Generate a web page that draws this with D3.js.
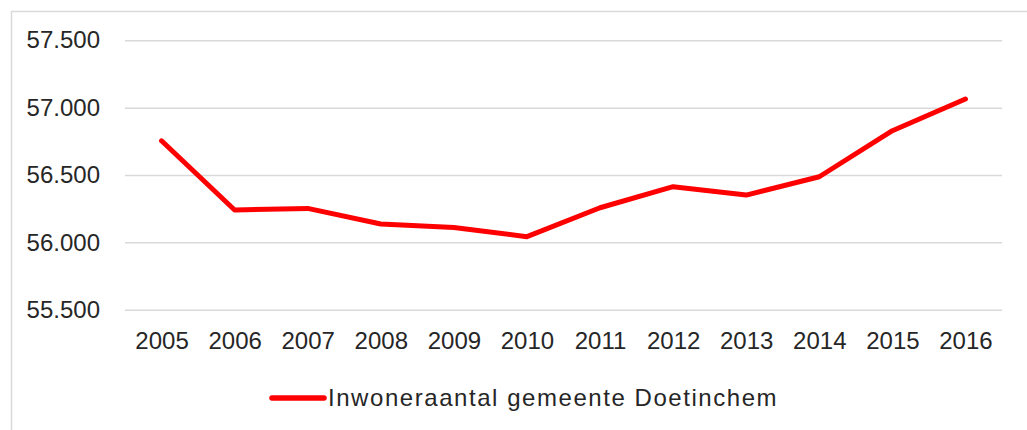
<!DOCTYPE html>
<html lang="nl">
<head>
<meta charset="UTF-8" />
<title>Inwoneraantal gemeente Doetinchem</title>
<script src="https://cdn.jsdelivr.net/npm/d3@7"></script>
<style>
    body { margin: 0; background: #fff; overflow: hidden; }
    svg { display: block; font-family: 'Liberation Sans', Arial, sans-serif; }
</style>
</head>
<body>
<div id="chart"></div>
<script>
const years = ['2005', '2006', '2007', '2008', '2009', '2010', '2011', '2012', '2013', '2014', '2015', '2016']
const inwoners = [56754, 56240, 56252, 56136, 56111, 56042, 56257, 56413, 56351, 56487, 56829, 57064]
const yTicks = [55500, 56000, 56500, 57000, 57500]
const seriesName = 'Inwoneraantal gemeente Doetinchem'

const width = 1027
const height = 430
const plot = { left: 125, right: 1002, top: 40.3, bottom: 309.7 }

const svg = d3.select('#chart').append('svg').attr('width', width).attr('height', height)

// chart area border (runs off the right and bottom edge)
svg.append('path')
    .attr('d', `M11.5,${height + 5}V11.5H${width + 5}`)
    .attr('fill', 'none')
    .attr('stroke', '#d9d9d9')
    .attr('stroke-width', 1.5)

const x = d3.scalePoint().domain(years).range([plot.left, plot.right]).padding(0.5)
const y = d3.scaleLinear().domain([55500, 57500]).range([plot.bottom, plot.top])

// dutch thousands separator
const fmt = (v) => d3.format(',')(v).replace(/,/g, '.')

// gridlines + y labels
const yAxis = d3.axisLeft(y).tickValues(yTicks).tickSize(-(plot.right - plot.left)).tickPadding(25).tickFormat(fmt)
const gy = svg.append('g').attr('transform', `translate(${plot.left},0)`).call(yAxis)
gy.select('.domain').remove()
gy.selectAll('.tick line').attr('stroke', '#d9d9d9').attr('stroke-width', 1.5)
gy.selectAll('.tick text').attr('fill', '#262626').style('font-size', '24px')

// x labels
const xAxis = d3.axisBottom(x).tickSize(0).tickPadding(22)
const gx = svg.append('g').attr('transform', `translate(0,${plot.bottom})`).call(xAxis)
gx.select('.domain').remove()
gx.selectAll('.tick text').attr('fill', '#262626').style('font-size', '24px')

// line
const line = d3.line()
    .x((d, i) => x(years[i]))
    .y((d) => y(d))

svg.append('path')
    .datum(inwoners)
    .attr('d', line)
    .attr('fill', 'none')
    .attr('stroke', '#ff0000')
    .attr('stroke-width', 5)
    .attr('stroke-linejoin', 'round')
    .attr('stroke-linecap', 'round')

// legend
const legend = svg.append('g').attr('transform', 'translate(272,398)')
legend.append('line')
    .attr('x1', 0).attr('x2', 52)
    .attr('stroke', '#ff0000')
    .attr('stroke-width', 5.5)
    .attr('stroke-linecap', 'round')
legend.append('text')
    .attr('x', 56)
    .attr('y', 7.5)
    .attr('fill', '#262626')
    .style('font-size', '24px')
    .style('letter-spacing', '1.55px')
    .text(seriesName)
</script>
</body>
</html>
